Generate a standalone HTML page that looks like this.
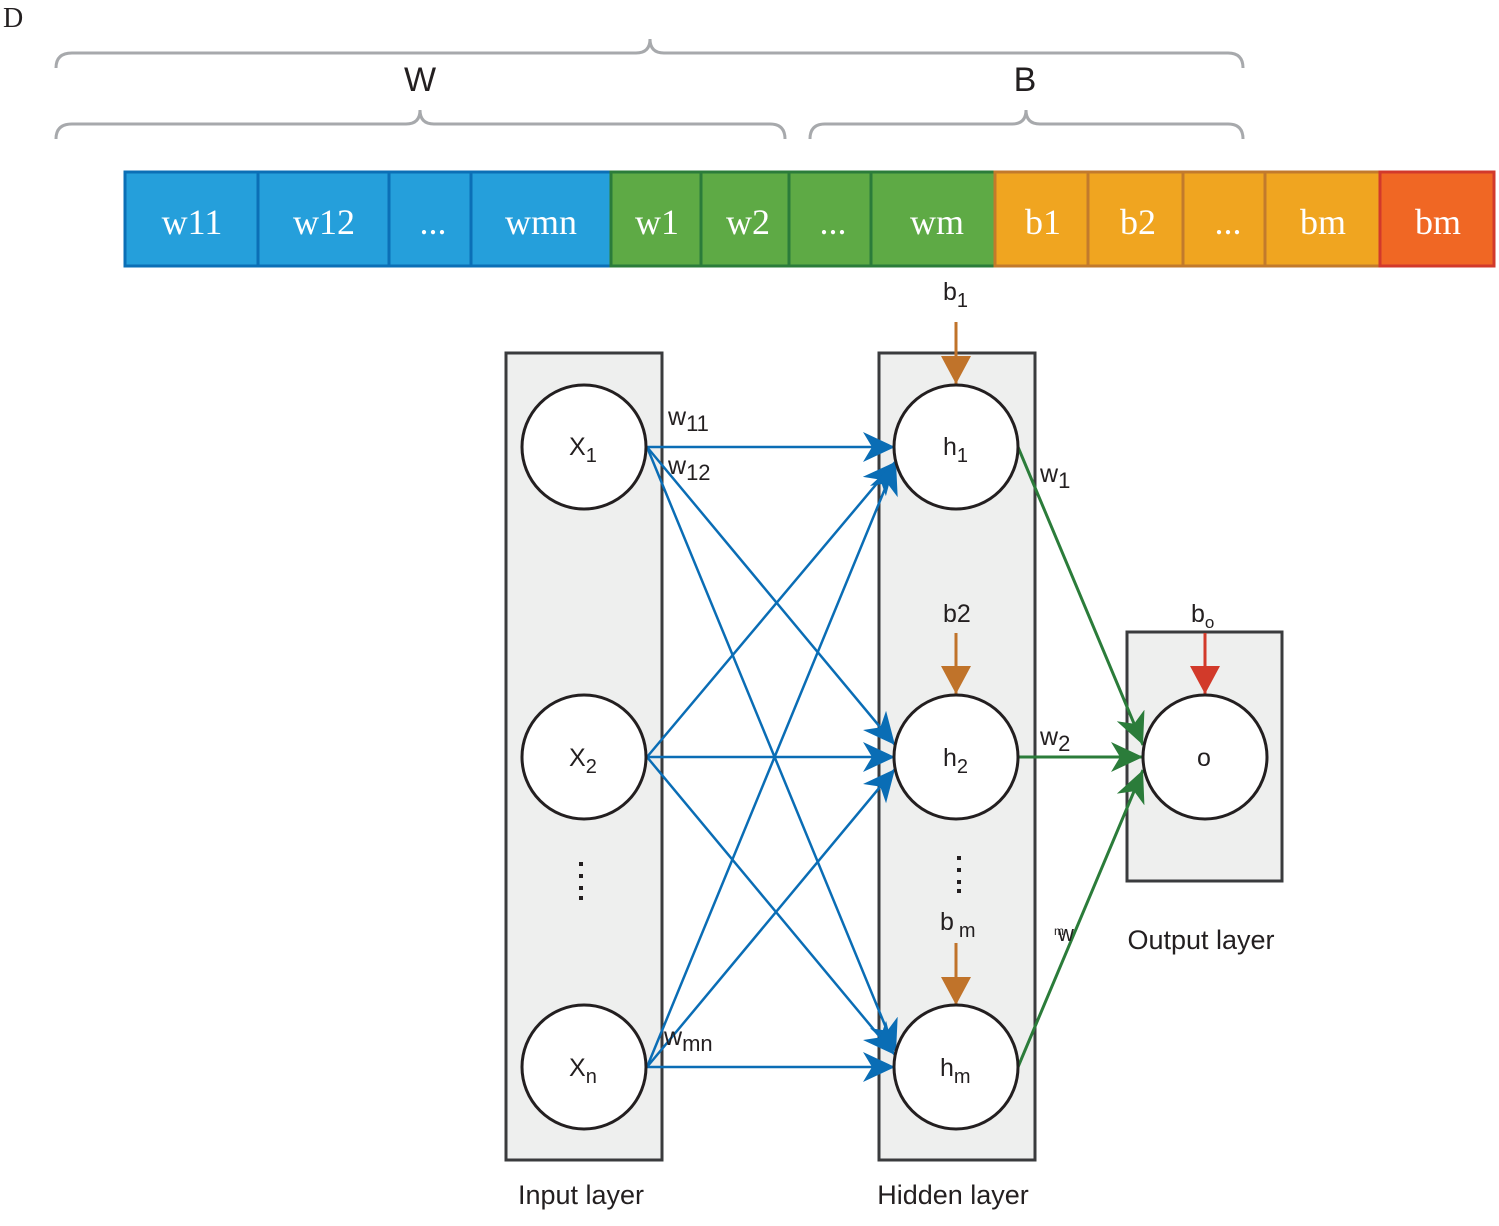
<!DOCTYPE html>
<html><head><meta charset="utf-8"><style>
html,body{margin:0;padding:0;background:#fff;}
svg{display:block;}
text{font-family:"Liberation Sans",sans-serif;fill:#231f20;}
.s{font-family:"Liberation Serif",serif;fill:#fff;font-size:36px;}
</style></head><body>
<svg width="1499" height="1226" viewBox="0 0 1499 1226" xmlns="http://www.w3.org/2000/svg">
<defs>
<marker id="ab" markerUnits="userSpaceOnUse" markerWidth="40" markerHeight="40" refX="32" refY="15" orient="auto"><path d="M0,0 L32,15 L0,30 L9,15 Z" fill="#0a6db5"/></marker>
<marker id="ag" markerUnits="userSpaceOnUse" markerWidth="40" markerHeight="40" refX="32" refY="15" orient="auto"><path d="M0,0 L32,15 L0,30 L9,15 Z" fill="#2b7c3a"/></marker>
<marker id="ao" markerUnits="userSpaceOnUse" markerWidth="40" markerHeight="40" refX="28" refY="15" orient="auto"><path d="M0,0 L28,15 L0,30 Z" fill="#c0732a"/></marker>
<marker id="ar" markerUnits="userSpaceOnUse" markerWidth="40" markerHeight="40" refX="28" refY="15" orient="auto"><path d="M0,0 L28,15 L0,30 Z" fill="#d23a2a"/></marker>
</defs>
<text x="3" y="27" style="font-family:'Liberation Serif',serif;font-size:28px">D</text>
<g fill="none" stroke="#a7a9ac" stroke-width="3">
<path d="M56,68 Q56,53 72,53 L636,53 Q650,53 650,39 Q650,53 664,53 L1228,53 Q1243,53 1243,68"/>
<path d="M56,139 Q56,124 72,124 L406,124 Q420,124 420,110 Q420,124 434,124 L770,124 Q785,124 785,139"/>
<path d="M810,139 Q810,124 825,124 L1012,124 Q1026,124 1026,110 Q1026,124 1040,124 L1228,124 Q1243,124 1243,139"/>
</g>
<text x="420" y="91" font-size="34" text-anchor="middle">W</text>
<text x="1025" y="91" font-size="34" text-anchor="middle">B</text>
<g stroke-width="3">
<rect x="125" y="172" width="486" height="94" fill="#259fdb" stroke="#0b6fb6"/>
<line x1="258" y1="172" x2="258" y2="266" stroke="#0b6fb6"/>
<line x1="389" y1="172" x2="389" y2="266" stroke="#0b6fb6"/>
<line x1="471" y1="172" x2="471" y2="266" stroke="#0b6fb6"/>
<rect x="611" y="172" width="384" height="94" fill="#5eaa45" stroke="#2b7c3a"/>
<line x1="701" y1="172" x2="701" y2="266" stroke="#2b7c3a"/>
<line x1="789" y1="172" x2="789" y2="266" stroke="#2b7c3a"/>
<line x1="871" y1="172" x2="871" y2="266" stroke="#2b7c3a"/>
<rect x="995" y="172" width="385" height="94" fill="#f0a520" stroke="#c27a2c"/>
<line x1="1088" y1="172" x2="1088" y2="266" stroke="#c27a2c"/>
<line x1="1183" y1="172" x2="1183" y2="266" stroke="#c27a2c"/>
<line x1="1265" y1="172" x2="1265" y2="266" stroke="#c27a2c"/>
<rect x="1380" y="172" width="114" height="94" fill="#f06724" stroke="#d2392b"/>
</g>
<g text-anchor="middle">
<text class="s" x="192" y="234">w11</text><text class="s" x="324" y="234">w12</text><text class="s" x="433" y="234">...</text><text class="s" x="541" y="234">wmn</text>
<text class="s" x="657" y="234">w1</text><text class="s" x="748" y="234">w2</text><text class="s" x="833" y="234">...</text><text class="s" x="937" y="234">wm</text>
<text class="s" x="1043" y="234">b1</text><text class="s" x="1138" y="234">b2</text><text class="s" x="1228" y="234">...</text><text class="s" x="1323" y="234">bm</text><text class="s" x="1438" y="234">bm</text>
</g>
<g fill="#eeefee" stroke="#3a3b3d" stroke-width="3">
<rect x="506" y="353" width="156" height="807"/>
<rect x="879" y="353" width="156" height="807"/>
<rect x="1127" y="632" width="155" height="249"/>
</g>
<g stroke="#0a6db5" stroke-width="2.5" marker-end="url(#ab)">
<line x1="647" y1="447" x2="895" y2="447"/>
<line x1="647" y1="447" x2="895" y2="745"/>
<line x1="647" y1="447" x2="896" y2="1052"/>
<line x1="647" y1="757" x2="895" y2="462"/>
<line x1="647" y1="757" x2="895" y2="757"/>
<line x1="647" y1="757" x2="895" y2="1055"/>
<line x1="647" y1="1067" x2="896" y2="462"/>
<line x1="647" y1="1067" x2="895" y2="769"/>
<line x1="647" y1="1067" x2="895" y2="1067"/>
</g>
<g stroke="#2b7c3a" stroke-width="3" marker-end="url(#ag)">
<line x1="1018" y1="447" x2="1143" y2="745"/>
<line x1="1018" y1="757" x2="1143" y2="757"/>
<line x1="1018" y1="1067" x2="1143" y2="770"/>
</g>
<g stroke-width="3">
<line x1="956" y1="322" x2="956" y2="384" stroke="#c0732a" marker-end="url(#ao)"/>
<line x1="956" y1="633" x2="956" y2="694" stroke="#c0732a" marker-end="url(#ao)"/>
<line x1="956" y1="943" x2="956" y2="1005" stroke="#c0732a" marker-end="url(#ao)"/>
<line x1="1205" y1="633" x2="1205" y2="694" stroke="#d23a2a" marker-end="url(#ar)"/>
</g>
<g fill="#fff" stroke="#231f20" stroke-width="3">
<circle cx="584" cy="447" r="62"/><circle cx="584" cy="757" r="62"/><circle cx="584" cy="1067" r="62"/>
<circle cx="956" cy="447" r="62"/><circle cx="956" cy="757" r="62"/><circle cx="956" cy="1067" r="62"/>
<circle cx="1205" cy="757" r="62"/>
</g>
<g fill="#231f20">
<rect x="579" y="862" width="4" height="4"/><rect x="579" y="874" width="4" height="4"/><rect x="579" y="886" width="4" height="4"/><rect x="579" y="896" width="4" height="4"/>
<rect x="957" y="856" width="4" height="4"/><rect x="957" y="868" width="4" height="4"/><rect x="957" y="880" width="4" height="4"/><rect x="957" y="889" width="4" height="4"/>
</g>
<g font-size="25">
<text x="569" y="455">X<tspan font-size="20" dy="7">1</tspan></text>
<text x="569" y="766">X<tspan font-size="20" dy="7">2</tspan></text>
<text x="569" y="1076">X<tspan font-size="20" dy="7">n</tspan></text>
<text x="943" y="455">h<tspan font-size="20" dy="7">1</tspan></text>
<text x="943" y="766">h<tspan font-size="20" dy="7">2</tspan></text>
<text x="940" y="1076">h<tspan font-size="20" dy="7">m</tspan></text>
<text x="1197" y="766">o</text>
<text x="943" y="300">b<tspan font-size="20" dy="7">1</tspan></text>
<text x="943" y="622">b2</text>
<text x="940" y="930">b<tspan font-size="20" dx="5" dy="7">m</tspan></text>
<text x="1191" y="622">b<tspan font-size="17" dy="6">o</tspan></text>
<text x="668" y="425">w<tspan font-size="22" dy="6">11</tspan></text>
<text x="668" y="474">w<tspan font-size="22" dy="6">12</tspan></text>
<text x="664" y="1045">w<tspan font-size="22" dy="6">mn</tspan></text>
<text x="1040" y="482">w<tspan font-size="22" dy="6">1</tspan></text>
<text x="1040" y="745">w<tspan font-size="22" dy="6">2</tspan></text>
<text x="1058" y="941" font-size="22">w</text><text x="1054" y="935" font-size="12">m</text>
</g>
<g font-size="27">
<text x="581" y="1204" text-anchor="middle">Input layer</text>
<text x="953" y="1204" text-anchor="middle">Hidden layer</text>
<text x="1201" y="949" text-anchor="middle">Output layer</text>
</g>
</svg>
</body></html>
